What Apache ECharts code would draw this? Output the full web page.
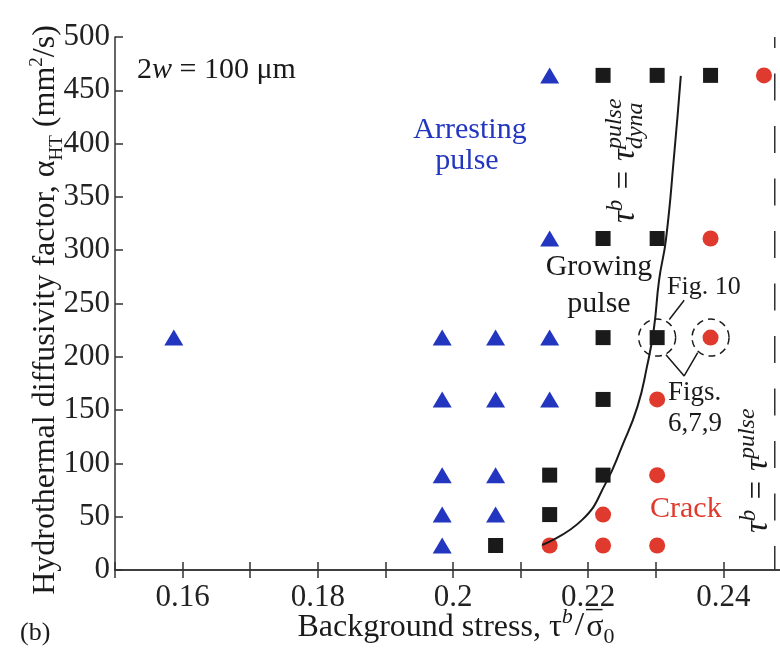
<!DOCTYPE html>
<html><head><meta charset="utf-8">
<script src="https://cdn.jsdelivr.net/npm/echarts@6/dist/echarts.min.js"></script>
<style>html,body{margin:0;padding:0;background:#fff}#c{width:780px;height:648px}</style>
</head><body><div id="c"></div>
<script>
// ---- data ----
const arrestingPulse = [[0.1587,218],[0.1984,23],[0.1984,52],[0.1984,89],[0.1984,160],[0.1984,218],
  [0.2063,52],[0.2063,89],[0.2063,160],[0.2063,218],[0.2143,160],[0.2143,218],[0.2143,311],[0.2143,464]];
const growingPulse = [[0.2063,23],[0.2143,52],[0.2143,89],[0.2222,89],[0.2222,160],[0.2222,218],[0.2302,218],
  [0.2222,311],[0.2302,311],[0.2222,464],[0.2302,464],[0.2381,464]];
const crack = [[0.2143,23],[0.2222,23],[0.2302,23],[0.2222,52],[0.2302,89],[0.2302,160],[0.2381,218],[0.2381,311],[0.2460,464]];
const dynaCurveX = [0.2132,0.2191,0.2226,0.2250,0.2273,0.2287,0.2297,0.2305,0.2315,0.2327,0.2337];
const dynaCurveY = [23.5,47,81.5,116,153.5,191,225.6,272.6,310,388.4,463.6];
const tauPulse = 0.2476;
const circledPoints = [[0.2302,218],[0.2381,218]];
const fig10Leader = [[0.2342,253],[0.2320,235]];
const figsLeader = [[0.2315,202],[0.2342,182],[0.2362,204]];
const xRange = [0.15, 0.25];
const yRange = [0, 500];

// ---- styling ----
const FAM = '"Liberation Serif","Times New Roman",serif';
const BLUE = '#2336bf', RED = '#e03a2e', INK = '#1a1a1a', AX = '#333';
const mctx = document.createElement('canvas').getContext('2d');
function tw(t, s, it){ mctx.font = (it?'italic ':'') + s + 'px ' + FAM; return mctx.measureText(t).width; }
// parts: {t, s(size), i(italic), dy(baseline shift), dx, na(no advance)}
function mathText(parts, o){
  let w = 0; const items = [];
  parts.forEach(p => { const s = p.s || 30; const width = tw(p.t, s, p.i);
    items.push({p, s, x: w + (p.dx||0)}); if (!p.na) w += width; });
  const start = o.align === 'center' ? -w/2 : 0;
  const children = items.map(it => ({
    type:'text', x: start + it.x, y: (it.p.dy||0) - 0.34*it.s,
    style:{ text: it.p.t, fontSize: it.s, fontFamily: FAM, fontStyle: it.p.i?'italic':'normal',
      fill: o.color || INK, align:'left', verticalAlign:'middle' }
  }));
  return { type:'group', x:o.x, y:o.y, rotation:o.rotation||0, z:100, children };
}

const chart = echarts.init(document.getElementById('c'), null, {renderer:'canvas'});
const axisCommon = {
  axisLine:{show:true, lineStyle:{color:AX, width:1.5}},
  axisTick:{show:true, inside:true, length:8, lineStyle:{color:AX, width:1.5}},
  splitLine:{show:false}
};
const xLabelFmt = v => { const k = Math.round(v*100); return k % 2 ? '' : String(k/100); };
chart.setOption({
  animation:false,
  backgroundColor:'#fff',
  grid:{left:115, top:37, right:-11, bottom:78, containLabel:false, outerBoundsMode:'none'},
  xAxis:[
    Object.assign({type:'value', min:xRange[0], max:xRange[1], interval:0.01, position:'bottom',
      axisLabel:{formatter:xLabelFmt, fontSize:31, fontFamily:FAM, color:'#222', margin:12, hideOverlap:false}}, axisCommon),
    Object.assign({type:'value', min:xRange[0], max:xRange[1], interval:0.01, position:'top',
      axisLabel:{show:false}}, axisCommon)
  ],
  yAxis:[
    Object.assign({type:'value', min:yRange[0], max:yRange[1], interval:50, position:'left',
      axisLabel:{fontSize:31, fontFamily:FAM, color:'#222', margin:5}}, axisCommon),
    Object.assign({type:'value', min:yRange[0], max:yRange[1], interval:50, position:'right',
      axisLabel:{show:false}}, axisCommon)
  ],
  series:[
    {type:'line', data:[[tauPulse, yRange[1]],[tauPulse, yRange[0]]], symbol:'none', silent:true,
      lineStyle:{color:AX, width:1.5, type:[27,25.5], dashOffset:16}, z:1},
    {type:'scatter', data:arrestingPulse, symbol:'triangle', symbolSize:[19,16], itemStyle:{color:BLUE, opacity:1}, z:4},
    {type:'scatter', data:growingPulse, symbol:'rect', symbolSize:[15,15], itemStyle:{color:INK, opacity:1}, z:4},
    {type:'scatter', data:crack, symbol:'circle', symbolSize:16, itemStyle:{color:RED, opacity:1}, z:4},
    {type:'line', data:dynaCurveX.map((x,i)=>[x, dynaCurveY[i]]), symbol:'none', smooth:0.5, silent:true,
      lineStyle:{color:INK, width:2}, z:6},
    {type:'scatter', data:circledPoints, symbol:'circle', symbolSize:37, silent:true,
      itemStyle:{color:'rgba(0,0,0,0)', borderColor:INK, borderWidth:1.5, borderType:[7,5], opacity:1}, z:5},
    {type:'line', data:fig10Leader, symbol:'none', silent:true, lineStyle:{color:INK, width:1.5}, z:5},
    {type:'line', data:figsLeader, symbol:'none', silent:true, lineStyle:{color:INK, width:1.5}, z:5}
  ],
  graphic:[
    mathText([{t:'2'},{t:'w',i:1},{t:' = 100 μm'}], {x:137, y:80}),
    mathText([{t:'Arresting'}], {x:470, y:140, align:'center', color:BLUE}),
    mathText([{t:'pulse'}], {x:467, y:171, align:'center', color:BLUE}),
    mathText([{t:'Growing'}], {x:599, y:277, align:'center'}),
    mathText([{t:'pulse'}], {x:599, y:314, align:'center'}),
    mathText([{t:'Fig. 10', s:26}], {x:667, y:296}),
    mathText([{t:'Figs.', s:27}], {x:668, y:402}),
    mathText([{t:'6,7,9', s:27}], {x:668, y:433}),
    mathText([{t:'Crack'}], {x:650, y:519, color:RED}),
    mathText([{t:'τ',s:33,i:1},{t:'b',s:23,i:1,dy:-13},{t:' = τ',s:33,i:1},{t:'dyna',s:24,i:1,dy:7,na:1},{t:'pulse',s:24,i:1,dy:-14}],
      {x:637, y:223, rotation:Math.PI/2}),
    mathText([{t:'τ',s:33,i:1},{t:'b',s:23,i:1,dy:-13},{t:' = τ',s:33,i:1},{t:'pulse',s:24,i:1,dy:-14}],
      {x:770, y:533, rotation:Math.PI/2}),
    mathText([{t:'Background stress, τ',s:32},{t:'b',s:22,i:1,dy:-13},{t:'/',s:34,dx:2},{t:'¯',s:32,dx:4,dy:-3,na:1},{t:'σ',s:32,dx:4},{t:'0',s:22,dy:7,dx:4}],
      {x:454, y:638, align:'center'}),
    mathText([{t:'Hydrothermal diffusivity factor, α',s:32},{t:'HT',s:19,dy:7},{t:' (mm',s:32},{t:'2',s:19,dy:-13},{t:'/s)',s:32}],
      {x:56, y:310, rotation:Math.PI/2, align:'center'}),
    mathText([{t:'(b)', s:26}], {x:20, y:642})
  ]
});
</script></body></html>
